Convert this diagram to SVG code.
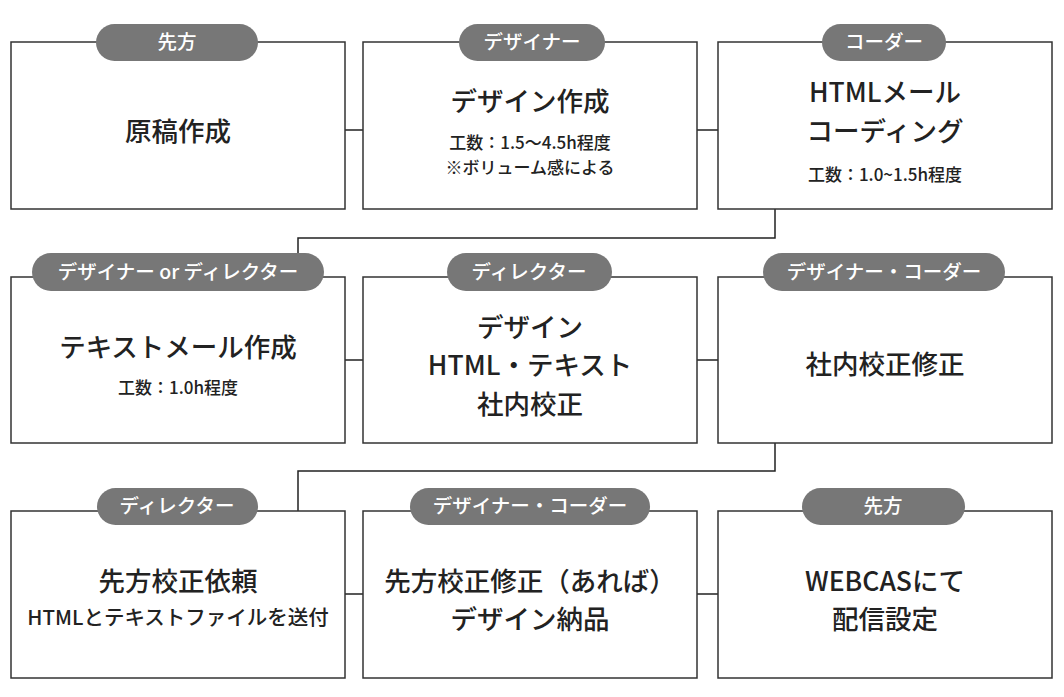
<svg xmlns="http://www.w3.org/2000/svg" width="1064" height="697" viewBox="0 0 1064 697">
<style>
.b{fill:#fff;stroke:#333;stroke-width:1.5}
.p{fill:#777}
.pt{fill:#fff;font-family:"Noto Sans CJK JP","Noto Sans",sans-serif;font-size:19.5px;font-weight:500;text-anchor:middle}
.t{fill:#222;font-family:"Noto Sans CJK JP","Noto Sans",sans-serif;font-size:26.5px;font-weight:500;text-anchor:middle}
.s{fill:#222;font-family:"Noto Sans CJK JP","Noto Sans",sans-serif;font-size:17px;font-weight:500;text-anchor:middle}
.c{fill:none;stroke:#222;stroke-width:1.5}
</style>
<g id="connectors">
<path class="c" d="M345 130H363M697 130H718M775 209V238H298V253M345 360H363M697 360H718M775 443V471H298V511M345 594H363M697 594H718"/>
</g>
<g id="n1"><rect class="b" x="11" y="42" width="334" height="167"/><rect class="p" x="96" y="24" width="162" height="37" rx="18.5"/><text class="pt" x="177" y="49">先方</text><text class="t" x="178" y="141">原稿作成</text></g>
<g id="n2"><rect class="b" x="363" y="42" width="334" height="167"/><rect class="p" x="459" y="24" width="146" height="37" rx="18.5"/><text class="pt" x="532" y="49">デザイナー</text><text class="t" x="530" y="111">デザイン作成</text><text class="s" x="530" y="149">工数：1.5〜4.5h程度</text><text class="s" x="530" y="174">※ボリューム感による</text></g>
<g id="n3"><rect class="b" x="718" y="42" width="334" height="167"/><rect class="p" x="822" y="24" width="124" height="37" rx="18.5"/><text class="pt" x="884" y="49">コーダー</text><text class="t" x="885" y="102">HTMLメール</text><text class="t" x="885" y="141">コーディング</text><text class="s" x="885" y="181">工数：1.0~1.5h程度</text></g>
<g id="n4"><rect class="b" x="11" y="277" width="334" height="166"/><rect class="p" x="32" y="253" width="292" height="38" rx="19"/><text class="pt" x="178" y="279">デザイナー or ディレクター</text><text class="t" x="178" y="357">テキストメール作成</text><text class="s" x="178" y="394">工数：1.0h程度</text></g>
<g id="n5"><rect class="b" x="363" y="277" width="334" height="166"/><rect class="p" x="447" y="253" width="165" height="38" rx="19"/><text class="pt" x="529" y="279">ディレクター</text><text class="t" x="530" y="337">デザイン</text><text class="t" x="530" y="375">HTML・テキスト</text><text class="t" x="530" y="414">社内校正</text></g>
<g id="n6"><rect class="b" x="718" y="277" width="334" height="166"/><rect class="p" x="763" y="253" width="242" height="38" rx="19"/><text class="pt" x="884" y="279">デザイナー・コーダー</text><text class="t" x="885" y="374">社内校正修正</text></g>
<g id="n7"><rect class="b" x="11" y="511" width="334" height="167"/><rect class="p" x="97" y="488" width="161" height="37" rx="18.5"/><text class="pt" x="177" y="513">ディレクター</text><text class="t" x="178" y="591">先方校正依頼</text><text class="s" x="178" y="625" style="font-size:20.5px">HTMLとテキストファイルを送付</text></g>
<g id="n8"><rect class="b" x="363" y="511" width="334" height="167"/><rect class="p" x="410" y="488" width="240" height="37" rx="18.5"/><text class="pt" x="530" y="513">デザイナー・コーダー</text><text class="t" x="530" y="591">先方校正修正（あれば）</text><text class="t" x="530" y="629">デザイン納品</text></g>
<g id="n9"><rect class="b" x="718" y="511" width="334" height="167"/><rect class="p" x="802" y="488" width="163" height="37" rx="18.5"/><text class="pt" x="883" y="513">先方</text><text class="t" x="885" y="591">WEBCASにて</text><text class="t" x="885" y="629">配信設定</text></g>
</svg>
